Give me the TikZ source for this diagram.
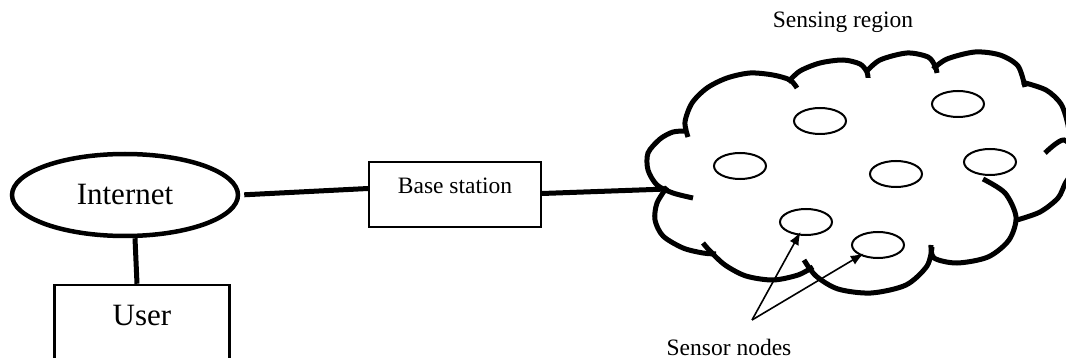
\documentclass[tikz,border=0pt]{standalone}
\usepackage{fontspec}
\setmainfont{Liberation Serif}
\usetikzlibrary{shapes.geometric,arrows.meta}
\tikzset{
  link/.style={line width=5pt},
  puff/.style={line width=5pt,line cap=butt},
  mote/.style={draw,ellipse,line width=2pt,minimum width=52pt,minimum height=26pt,inner sep=0pt},
  ptr/.style={line width=1.6pt,-{Latex[length=13pt,width=10pt]},shorten >=-4pt},
  big/.style={font=\fontsize{31}{31}\selectfont},
  small/.style={font=\fontsize{23.5}{23.5}\selectfont},
}
\begin{document}
\begin{tikzpicture}[x=1pt,y=-1pt]
                \useasboundingbox (0,0) rectangle (1066,358);
                \clip (0,0) rectangle (1066,358);
                \node[draw,ellipse,line width=4.5pt,minimum width=226pt,minimum height=82pt,inner sep=0pt,big] (inet) at (125,195) {Internet};
                \node[draw,line width=2.5pt,minimum width=175pt,inner sep=0pt,text height=40pt,text depth=50pt,anchor=base,big] (user) at (142,325) {User};
                \node[draw,line width=2pt,minimum width=172pt,inner sep=0pt,text height=32pt,text depth=33pt,anchor=base,small] (base) at (455,194) {Base station};
                \node[small,anchor=base] (region) at (843,28) {Sensing region};
                \node[small,anchor=base] (snodes) at (729,355) {Sensor nodes};

                \draw[puff] plot[smooth] coordinates {(688,137) (685,122) (692,103) (707,88) (727,78) (750,73) (773,75) (790,80) (797,88)};
                \draw[puff] plot[smooth] coordinates {(788,82) (800,71) (820,63) (843,60) (860,64) (867,72) (868,78)};
                \draw[puff] plot[smooth] coordinates {(866,72) (880,60) (907,53) (928,57) (935,66) (937,73)};
                \draw[puff] plot[smooth] coordinates {(933,69) (947,59) (975,52) (1000,55) (1018,66) (1025,87)};
                \draw[puff] plot[smooth] coordinates {(1022,82) (1046,90) (1061,104) (1068,125) (1070,145)};
                \draw[puff] plot[smooth] coordinates {(1045,153) (1064,140) (1080,160) (1066,182) (1058,198) (1040,212) (1017,220)};
                \draw[puff] plot[smooth] coordinates {(983,179) (1005,193) (1016,217) (1009,240) (988,257) (957,263) (934,258) (931,245)};
                \draw[puff] plot[smooth] coordinates {(932,247) (927,266) (906,285) (871,293) (838,289) (816,276) (804,260)};
                \draw[puff] plot[smooth] coordinates {(813,267) (798,275) (773,280) (746,276) (725,265) (710,251) (703,243)};
                \draw[puff] plot[smooth] coordinates {(667,187) (657,203) (655,220) (663,236) (683,248) (703,253) (716,254)};
                \draw[puff] plot[smooth] coordinates {(693,198) (673,193) (657,185) (648,170) (648,153) (660,139) (673,132) (686,131)};
                \coordinate (cloudin) at (667,189);

                \node[mote] (s1) at (820,121) {}; \node[mote] (s2) at (958,104) {};
                \node[mote] (s3) at (740,166) {}; \node[mote] (s4) at (896,174) {};
                \node[mote] (s5) at (990,162) {}; \node[mote] (s6) at (806,222) {};
                \node[mote] (s7) at (878,245) {};
                \coordinate (tip) at (752,320);

                \draw[link] ([xshift=10pt]inet.south) to ([xshift=-5pt]user.north);
                \draw[link,shorten <=4pt] (inet.east) to ([yshift=6pt]base.west);
                \draw[link] ([yshift=1pt]base.east) to (cloudin);
                \draw[ptr] (tip) to (s6); \draw[ptr] (tip) to (s7);
            \end{tikzpicture}
\end{document}
